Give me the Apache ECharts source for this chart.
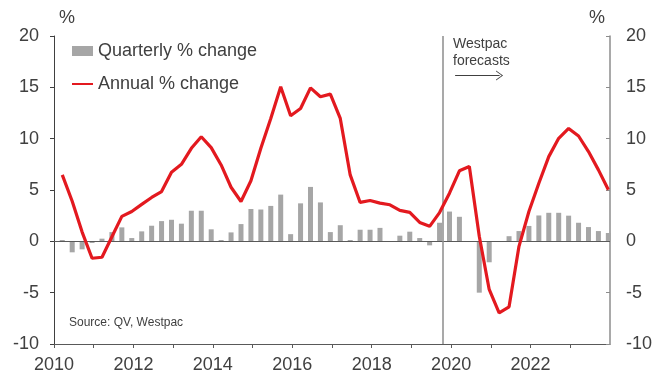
<!DOCTYPE html>
<html><head><meta charset="utf-8">
<script src="https://cdn.jsdelivr.net/npm/echarts@6/dist/echarts.min.js"></script>
<style>html,body{margin:0;padding:0;background:#fff}#c{width:667px;height:374px}</style>
</head><body><div id="c"></div>
<script>
// Quarter labels, 2010Q1 .. 2023Q4
const quarters = [
 '2010Q1','2010Q2','2010Q3','2010Q4','2011Q1','2011Q2','2011Q3','2011Q4',
 '2012Q1','2012Q2','2012Q3','2012Q4','2013Q1','2013Q2','2013Q3','2013Q4',
 '2014Q1','2014Q2','2014Q3','2014Q4','2015Q1','2015Q2','2015Q3','2015Q4',
 '2016Q1','2016Q2','2016Q3','2016Q4','2017Q1','2017Q2','2017Q3','2017Q4',
 '2018Q1','2018Q2','2018Q3','2018Q4','2019Q1','2019Q2','2019Q3','2019Q4',
 '2020Q1','2020Q2','2020Q3','2020Q4','2021Q1','2021Q2','2021Q3','2021Q4',
 '2022Q1','2022Q2','2022Q3','2022Q4','2023Q1','2023Q2','2023Q3','2023Q4'
];
const quarterlyChange = [
 0.13,-1.07,-0.78,-0.16, 0.26,0.9,1.36,0.32,
 0.97,1.52,1.97,2.1, 1.72,2.98,2.98,1.17,
 0.13,0.87,1.68,3.15, 3.1,3.45,4.55,0.7,
 3.7,5.3,3.79,0.9, 1.57,0.13,1.13,1.13,
 1.31,0,0.55,0.94, 0.32,-0.39,1.81,2.9,
 2.39,0,-5.0,-2.04, 0,0.5,1.0,1.5,
 2.52,2.78,2.78,2.5, 1.81,1.39,1.0,0.81
];
const annualChange = [
 6.47,3.9,0.9,-1.65, -1.55,0.45,2.43,2.9,
 3.6,4.27,4.85,6.73, 7.5,9.06,10.19,9.13,
 7.44,5.27,3.88,5.9, 9.06,11.97,15.05,12.23,
 12.94,14.95,14.08,14.34, 11.97,6.47,3.79,3.98,
 3.72,3.56,3.01,2.82, 1.84,1.46,2.8,4.69,
 6.87,7.28,0.5,-4.69, -6.96,-6.38,-0.49,2.91,
 5.66,8.25,10.03,11.0, 10.26,8.74,6.96,5.02
];
const xTickLabels = [2010,2012,2014,2016,2018,2020,2022];
const forecastStart = 2019.79;
const forecastArrow = [[2020.1, 16.15], [2021.22, 16.15]];

// position of a quarter on the time axis: middle of the quarter's last month
function qPos(label) {
  const y = parseInt(label.slice(0,4), 10), q = parseInt(label.slice(5), 10);
  return y + (3*q - 0.5)/12;
}
const barData = quarters.map((q,i) => [qPos(q), quarterlyChange[i]]);
const lineData = quarters.map((q,i) => [qPos(q), annualChange[i]]);

const FONT = '"Liberation Sans", Arial, sans-serif';
const TXT = '#404040';

const chart = echarts.init(document.getElementById('c'), null, {renderer:'canvas'});
chart.setOption({
  animation: false,
  textStyle: {fontFamily: FONT},
  grid: {left: 54, right: 57, top: 36, bottom: 29},
  legend: {
    left: 71, top: 42, orient: 'vertical', itemGap: 15, padding: 0,
    itemWidth: 21, itemHeight: 10,
    textStyle: {fontSize: 18, color: TXT, fontFamily: FONT},
    data: [
      {name: 'Quarterly % change', icon: 'rect'},
      {name: 'Annual % change', itemStyle: {color: 'rgba(0,0,0,0)', borderWidth: 0, opacity: 0}}
    ]
  },
  xAxis: {
    type: 'value', min: 2010, max: 2024, interval: 1,
    axisLine: {onZero: false, lineStyle: {color: '#595959', width: 1}},
    axisTick: {show: true, length: 4, lineStyle: {color: '#595959'}},
    splitLine: {show: false},
    axisLabel: {
      fontSize: 18, color: TXT, margin: 12, fontFamily: FONT,
      showMaxLabel: false,
      formatter: v => xTickLabels.includes(v) ? String(v) : ''
    }
  },
  yAxis: [
    {
      type: 'value', min: -10, max: 20, interval: 5, position: 'left',
      axisLine: {show: true, lineStyle: {color: '#404040', width: 1}},
      axisTick: {show: true, length: 4, lineStyle: {color: '#404040'}},
      splitLine: {show: false},
      axisLabel: {fontSize: 18, color: TXT, margin: 15, fontFamily: FONT}
    },
    {
      type: 'value', min: -10, max: 20, interval: 5, position: 'right',
      axisLine: {show: true, lineStyle: {color: '#8c8c8c', width: 1.5}},
      axisTick: {show: true, inside: true, length: 4, lineStyle: {color: '#8c8c8c'}},
      splitLine: {show: false},
      axisLabel: {fontSize: 18, color: TXT, margin: 16, fontFamily: FONT}
    }
  ],
  series: [
    {
      name: 'Quarterly % change', type: 'bar', data: barData,
      barWidth: 5, itemStyle: {color: '#a6a6a6'}, z: 2,
      markLine: {
        silent: true, symbol: 'none', label: {show: false}, animation: false,
        data: [
          {yAxis: 0, lineStyle: {color: '#595959', width: 1.2, type: 'solid'}},
          {xAxis: forecastStart, lineStyle: {color: '#8c8c8c', width: 1.5, type: 'solid'}}
        ]
      }
    },
    {
      name: 'Annual % change', type: 'line', data: lineData,
      symbol: 'none', showSymbol: false, z: 10,
      lineStyle: {color: '#e3191f', width: 3.2},
      itemStyle: {color: '#e3191f'},
      markLine: {
        silent: true, label: {show: false}, animation: false,
        symbol: ['none', 'path://M0,10 L5,0 L10,10 L9,10 L5,2 L1,10 Z'],
        symbolSize: [10, 7],
        lineStyle: {color: '#404040', width: 1, type: 'solid'},
        data: [[{coord: forecastArrow[0]}, {coord: forecastArrow[1]}]]
      }
    }
  ],
  graphic: [
    {type: 'text', left: 59, top: 9, style: {text: '%', fontSize: 18, fill: TXT, fontFamily: FONT}},
    {type: 'text', left: 589, top: 9, style: {text: '%', fontSize: 18, fill: TXT, fontFamily: FONT}},
    {type: 'text', left: 453, top: 36, style: {text: 'Westpac\nforecasts', fontSize: 14, lineHeight: 17, fill: TXT, fontFamily: FONT}},
    {type: 'text', left: 69, top: 317, style: {text: 'Source: QV, Westpac', fontSize: 12, fill: TXT, fontFamily: FONT}}
  ]
});
</script>
</body></html>
